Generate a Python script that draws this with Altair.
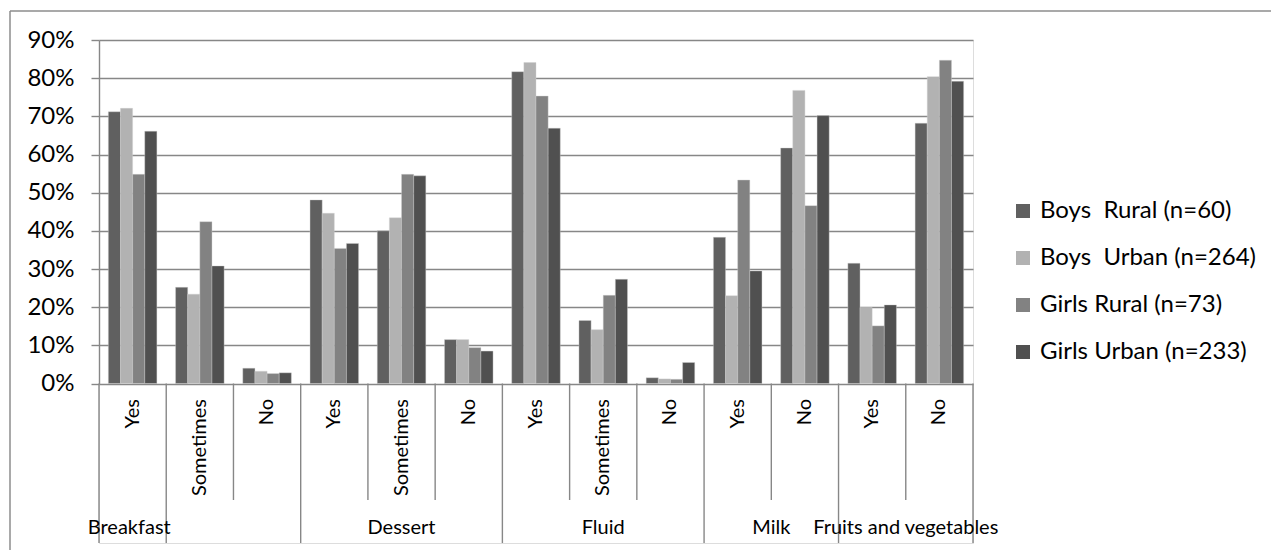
import altair as alt
import pandas as pd

# Survey answers, grouped by topic (two-level category axis)
groups = ["Breakfast", "Dessert", "Fluid", "Milk", "Fruits and vegetables"]
answers = [
    ["Yes", "Sometimes", "No"],
    ["Yes", "Sometimes", "No"],
    ["Yes", "Sometimes", "No"],
    ["Yes", "No"],
    ["Yes", "No"],
]

series = [
    "Boys\u00a0 Rural (n=60)",
    "Boys\u00a0 Urban (n=264)",
    "Girls Rural (n=73)",
    "Girls Urban (n=233)",
]
colors = ["#606060", "#b2b2b2", "#828282", "#505050"]

# Percentages, in category order (Breakfast Yes ... Fruits and vegetables No)
boys_rural = [71.2, 25.2, 4.0, 48.1, 40.0, 11.5, 81.7, 16.5, 1.5, 38.3, 61.7, 31.5, 68.2]
boys_urban = [72.1, 23.4, 3.2, 44.6, 43.4, 11.5, 84.1, 14.1, 1.2, 23.0, 76.8, 19.9, 80.4]
girls_rural = [54.8, 42.4, 2.6, 35.4, 54.8, 9.4, 75.3, 23.1, 1.1, 53.3, 46.6, 15.1, 84.7]
girls_urban = [66.1, 30.8, 2.8, 36.7, 54.4, 8.5, 66.9, 27.3, 5.5, 29.5, 70.2, 20.6, 79.2]

y_ticks = [0, 10, 20, 30, 40, 50, 60, 70, 80, 90]

# ---- tables built from the lists above ----
cats, cat_answer, cat_group = [], [], []
for g, ans in zip(groups, answers):
    for a in ans:
        cats.append(f"{g}|{a}")
        cat_answer.append(a)
        cat_group.append(g)

rows = []
for s, vals in zip(series, [boys_rural, boys_urban, girls_rural, girls_urban]):
    for c, v in zip(cats, vals):
        rows.append({"cat": c, "series": s, "value": v})
bars_df = pd.DataFrame(rows)

labels_df = pd.DataFrame({"cat": cats, "answer": cat_answer})

# Separator lines of the category axis: long ones bound the groups
long_idx = [0, 1, 3, 6, 9, 11]
short_idx = [i for i in range(len(cats)) if i not in long_idx]
long_df = pd.DataFrame({"cat": [cats[i] for i in long_idx]})
short_df = pd.DataFrame({"cat": [cats[i] for i in short_idx]})
end_df = pd.DataFrame({"cat": [cats[-1]]})

# Group label anchors
grp_a = pd.DataFrame({"cat": [cats[0]], "label": ["Breakfast"]})
grp_b = pd.DataFrame({"cat": [cats[4], cats[7]], "label": ["Dessert", "Fluid"]})
grp_c = pd.DataFrame({"cat": [cats[9], cats[11]], "label": ["Milk", "Fruits and vegetables"]})

FONT = "Lato"
GRID = "#878787"
ZERO_Y = 343.5  # pixel row of 0 % inside the plot

xscale = alt.Scale(domain=cats, paddingInner=0, paddingOuter=0)
yscale = alt.Scale(domain=[0, 90], range=[ZERO_Y, 0], nice=False)

bars = alt.Chart(bars_df).mark_bar(stroke="#d0d0d0", strokeWidth=0.4).encode(
    x=alt.X("cat:N", scale=xscale, axis=None, sort=cats),
    xOffset=alt.XOffset("series:N", sort=series,
                        scale=alt.Scale(domain=series, paddingOuter=0.77, paddingInner=0)),
    y=alt.Y("value:Q", scale=yscale, title=None,
            axis=alt.Axis(values=y_ticks, labelExpr="datum.value + '%'",
                          grid=True, gridColor=GRID, gridWidth=1.4,
                          domainColor=GRID, domainWidth=1.4,
                          tickColor=GRID, tickWidth=1.4, tickSize=8,
                          labelFont=FONT, labelFontSize=24, labelColor="#000000",
                          labelPadding=17)),
    color=alt.Color("series:N", sort=series,
                    scale=alt.Scale(domain=series, range=colors),
                    legend=alt.Legend(title=None, orient="none", legendX=912, legendY=159,
                                      symbolType="square", symbolSize=196,
                                      symbolStrokeWidth=0, labelFont=FONT,
                                      labelFontSize=24, labelColor="#000000",
                                      labelLimit=400, labelOffset=5, rowPadding=23)),
)

rule_style = dict(color=GRID, strokeWidth=1.4)

short_rules = alt.Chart(short_df).mark_rule(**rule_style).encode(
    x=alt.X("cat:N", scale=xscale, sort=cats, bandPosition=0, axis=None),
    y=alt.value(ZERO_Y), y2=alt.value(460),
)
long_rules = alt.Chart(long_df).mark_rule(**rule_style).encode(
    x=alt.X("cat:N", scale=xscale, sort=cats, bandPosition=0, axis=None),
    y=alt.value(ZERO_Y), y2=alt.value(503),
)
end_rule = alt.Chart(end_df).mark_rule(**rule_style).encode(
    x=alt.X("cat:N", scale=xscale, sort=cats, bandPosition=1, axis=None),
    y=alt.value(ZERO_Y), y2=alt.value(503),
)

answer_text = alt.Chart(labels_df).mark_text(
    angle=270, align="right", baseline="middle", font=FONT, fontSize=20, color="#000000"
).encode(
    x=alt.X("cat:N", scale=xscale, sort=cats, axis=None),
    y=alt.value(359),
    text="answer:N",
)

def group_text(df, band):
    return alt.Chart(df).mark_text(
        align="center", baseline="middle", font=FONT, fontSize=20, color="#000000"
    ).encode(
        x=alt.X("cat:N", scale=xscale, sort=cats, bandPosition=band, axis=None),
        y=alt.value(488),
        text="label:N",
    )

one = pd.DataFrame({"k": [0]})
frame_top = alt.Chart(one).mark_rule(color="#8c8c8c", strokeWidth=1.5).encode(
    x=alt.value(-89), x2=alt.value(1190), y=alt.value(-29)
)
frame_left = alt.Chart(one).mark_rule(color="#8c8c8c", strokeWidth=1.5).encode(
    x=alt.value(-89), y=alt.value(-29), y2=alt.value(520)
)

chart = alt.layer(
    frame_top, frame_left,
    short_rules, long_rules, end_rule,
    bars, answer_text,
    group_text(grp_a, 0.45), group_text(grp_b, 0.5), group_text(grp_c, 1.0),
).properties(
    width=874, height=503,
    autosize=alt.AutoSizeParams(type="none"),
    padding={"left": 99, "top": 40, "right": 298, "bottom": 7},
).configure_view(stroke=None).configure(background="#ffffff")

chart.save("out.html", embed_options={"renderer": "svg", "actions": False})
